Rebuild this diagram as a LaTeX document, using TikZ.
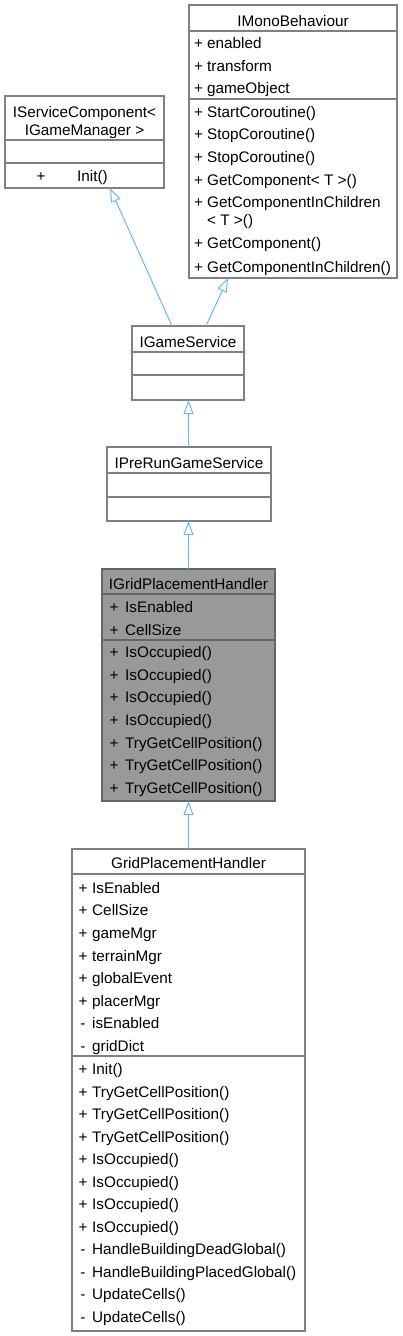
\documentclass[tikz,border=0pt]{standalone}
\usepackage{fontspec}
\setmainfont{Liberation Sans}
\usetikzlibrary{arrows.meta}
\definecolor{edgeblue}{HTML}{63B8FF}
\definecolor{linegray}{HTML}{808080}
\definecolor{darkline}{HTML}{666666}
\definecolor{hlfill}{HTML}{999999}

\begin{document}
\begin{tikzpicture}[x=1pt,y=-1pt,font=\fontsize{15.3}{18}\selectfont,cls/.style={draw=linegray,line width=1.2pt,fill=white,anchor=north west,inner sep=0pt,outer sep=0pt},hl/.style={cls,draw=darkline,fill=hlfill},sep/.style={draw=linegray,line width=1.2pt},ttl/.style={anchor=base,inner sep=0pt},sym/.style={anchor=base,inner sep=0pt},mem/.style={anchor=base west,inner sep=0pt},inh/.style={draw=edgeblue,line width=1pt,-{Triangle[open,length=14pt,width=10pt]}}]
\useasboundingbox (0,0) rectangle (402,1336);
% class boxes
\node[cls, minimum width=159, minimum height=92] (isc) at (5,96){};
\node[cls, minimum width=208, minimum height=273] (imb) at (189,5){};
\node[cls, minimum width=112, minimum height=74] (igs) at (132,326){};
\node[cls, minimum width=164, minimum height=74] (ipr) at (107,447){};
\node[hl, minimum width=173, minimum height=232] (igph) at (102,569){};
\node[cls, minimum width=233, minimum height=482] (gph) at (72,849){};
\draw[sep] (5,140) -- (164,140);\draw[sep] (5,163) -- (164,163);
\draw[sep] (189,31) -- (397,31);\draw[sep] (189,99) -- (397,99);
\draw[sep] (132,352) -- (244,352);\draw[sep] (132,375) -- (244,375);
\draw[sep] (107,473) -- (271,473);\draw[sep] (107,497) -- (271,497);
\draw[sep,darkline] (102,594) -- (275,594);\draw[sep,darkline] (102,640) -- (275,640);
\draw[sep] (72,874) -- (305,874);\draw[sep] (72,1056) -- (305,1056);
% IServiceComponent
\node[ttl] (isc-t1) at (84.5,117.5){IServiceComponent<};
\node[ttl] (isc-t2) at (84.5,135.5){IGameManager >};
\node[sym] (isc-s1) at (41,181.5){+};\node[mem] (isc-m1) at (77,181.5){Init()};
% IMonoBehaviour
\node[ttl] (imb-t) at (293,26.5){IMonoBehaviour};
\node[sym] (imb-s1) at (198.5,48.5){+};\node[mem] (imb-a1) at (207,48.5){enabled};
\node[sym] (imb-s2) at (198.5,71.3){+};\node[mem] (imb-a2) at (207,71.3){transform};
\node[sym] (imb-s3) at (198.5,93.6){+};\node[mem] (imb-a3) at (207,93.6){gameObject};
\node[sym] (imb-s4) at (198.5,117.5){+};\node[mem] (imb-m1) at (207,117.5){StartCoroutine()};
\node[sym] (imb-s5) at (198.5,139.8){+};\node[mem] (imb-m2) at (207,139.8){StopCoroutine()};
\node[sym] (imb-s6) at (198.5,162.2){+};\node[mem] (imb-m3) at (207,162.2){StopCoroutine()};
\node[sym] (imb-s7) at (198.5,185.3){+};\node[mem] (imb-m4) at (207,185.3){GetComponent< T >()};
\node[sym] (imb-s8) at (198.5,207.3){+};\node[mem] (imb-m5) at (207,207.3){GetComponentInChildren};
\node[mem] (imb-m5b) at (207,225.5){< T >()};
\node[sym] (imb-s9) at (198.5,248.8){+};\node[mem] (imb-m6) at (207,248.8){GetComponent()};
\node[sym] (imb-s10) at (198.5,272.2){+};\node[mem] (imb-m7) at (207,272.2){GetComponentInChildren()};
% IGameService, IPreRunGameService
\node[ttl] (igs-t) at (188,347.5){IGameService};
\node[ttl] (ipr-t) at (189,468.5){IPreRunGameService};
% IGridPlacementHandler
\node[ttl] (igph-t) at (188.5,589.5){IGridPlacementHandler};
\node[sym] (igph-s1) at (114,612.5){+};\node[mem] (igph-a1) at (125,612.5){IsEnabled};
\node[sym] (igph-s2) at (114,635.1){+};\node[mem] (igph-a2) at (125,635.1){CellSize};
\node[sym] (igph-s3) at (114,657.7){+};\node[mem] (igph-m1) at (125,657.7){IsOccupied()};
\node[sym] (igph-s4) at (114,680.3){+};\node[mem] (igph-m2) at (125,680.3){IsOccupied()};
\node[sym] (igph-s5) at (114,702.9){+};\node[mem] (igph-m3) at (125,702.9){IsOccupied()};
\node[sym] (igph-s6) at (114,725.5){+};\node[mem] (igph-m4) at (125,725.5){IsOccupied()};
\node[sym] (igph-s7) at (114,748.1){+};\node[mem] (igph-m5) at (125,748.1){TryGetCellPosition()};
\node[sym] (igph-s8) at (114,770.7){+};\node[mem] (igph-m6) at (125,770.7){TryGetCellPosition()};
\node[sym] (igph-s9) at (114,793.3){+};\node[mem] (igph-m7) at (125,793.3){TryGetCellPosition()};
% GridPlacementHandler
\node[ttl] (gph-t) at (188.5,868.5){GridPlacementHandler};
\node[sym] (gph-s1) at (83,893.3){+};\node[mem] (gph-a1) at (92,893.3){IsEnabled};
\node[sym] (gph-s2) at (83,915.9){+};\node[mem] (gph-a2) at (92,915.9){CellSize};
\node[sym] (gph-s3) at (83,938.5){+};\node[mem] (gph-a3) at (92,938.5){gameMgr};
\node[sym] (gph-s4) at (83,961.1){+};\node[mem] (gph-a4) at (92,961.1){terrainMgr};
\node[sym] (gph-s5) at (83,983.7){+};\node[mem] (gph-a5) at (92,983.7){globalEvent};
\node[sym] (gph-s6) at (83,1006.3){+};\node[mem] (gph-a6) at (92,1006.3){placerMgr};
\node[sym] (gph-s7) at (83,1028.9){-};\node[mem] (gph-a7) at (92,1028.9){isEnabled};
\node[sym] (gph-s8) at (83,1051.5){-};\node[mem] (gph-a8) at (92,1051.5){gridDict};
\node[sym] (gph-s9) at (83,1074.8){+};\node[mem] (gph-m1) at (92,1074.8){Init()};
\node[sym] (gph-s10) at (83,1097.3){+};\node[mem] (gph-m2) at (92,1097.3){TryGetCellPosition()};
\node[sym] (gph-s11) at (83,1119.8){+};\node[mem] (gph-m3) at (92,1119.8){TryGetCellPosition()};
\node[sym] (gph-s12) at (83,1142.3){+};\node[mem] (gph-m4) at (92,1142.3){TryGetCellPosition()};
\node[sym] (gph-s13) at (83,1164.8){+};\node[mem] (gph-m5) at (92,1164.8){IsOccupied()};
\node[sym] (gph-s14) at (83,1187.3){+};\node[mem] (gph-m6) at (92,1187.3){IsOccupied()};
\node[sym] (gph-s15) at (83,1209.8){+};\node[mem] (gph-m7) at (92,1209.8){IsOccupied()};
\node[sym] (gph-s16) at (83,1232.3){+};\node[mem] (gph-m8) at (92,1232.3){IsOccupied()};
\node[sym] (gph-s17) at (83,1254.8){-};\node[mem] (gph-m9) at (92,1254.8){HandleBuildingDeadGlobal()};
\node[sym] (gph-s18) at (83,1277.3){-};\node[mem] (gph-m10) at (92,1277.3){HandleBuildingPlacedGlobal()};
\node[sym] (gph-s19) at (83,1299.8){-};\node[mem] (gph-m11) at (92,1299.8){UpdateCells()};
\node[sym] (gph-s20) at (83,1322.3){-};\node[mem] (gph-m12) at (92,1322.3){UpdateCells()};
% inheritance
\draw[inh] ([xshift=40]igs.north west) -- ([xshift=105]isc.south west);
\draw[inh] ([xshift=74]igs.north west) -- ([xshift=39]imb.south west);
\draw[inh] ([xshift=-0.5]ipr.north) -- ([xshift=-0.5]ipr.north |- igs.south);
\draw[inh] (igph.north) -- (igph.north |- ipr.south);
\draw[inh] (gph.north) -- (gph.north |- igph.south);
\end{tikzpicture}
\end{document}
